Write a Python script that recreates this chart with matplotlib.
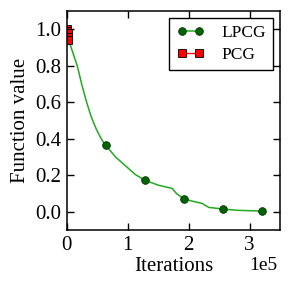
import matplotlib
matplotlib.use("Agg")
import matplotlib.pyplot as plt

plt.rcParams['font.family'] = ['Liberation Serif', 'DejaVu Serif']
plt.rcParams['font.size'] = 15

# LPCG curve (iterations, function value)
lpcg_x = [0, 7000, 17000, 25000, 32000, 40000, 48000, 54000, 59000, 64000, 80000,
          97000, 112000, 128000, 150000, 173000, 180000, 193000, 210000,
          222000, 233000, 256000, 280000, 300000, 320000]
lpcg_y = [0.97, 0.90, 0.80, 0.69, 0.605, 0.52, 0.455, 0.415, 0.385, 0.364, 0.30,
          0.25, 0.205, 0.173, 0.146, 0.128, 0.10, 0.069, 0.055,
          0.046, 0.024, 0.015, 0.008, 0.006, 0.004]
lpcg_marks = [0, 9, 13, 17, 21, 24]

# PCG (stops almost immediately)
pcg_x = [0, 500, 1000, 1500, 2000]
pcg_y = [1.0, 0.99, 0.98, 0.96, 0.94]

scale = 1e5
fig = plt.figure(figsize=(2.91, 2.91), dpi=100)
ax = fig.add_axes([0.230, 0.2096, 0.732, 0.752])

ax.plot(lpcg_x, lpcg_y, color='#22aa22', lw=1.1, marker='o', markersize=5.5,
        markerfacecolor='#006400', markeredgecolor='#003300', markeredgewidth=0.6,
        markevery=lpcg_marks, label='LPCG')
ax.plot(pcg_x, pcg_y, color='red', lw=1.0, marker='s', markersize=5.5,
        markerfacecolor='red', markeredgecolor='black', markeredgewidth=0.6,
        label='PCG')

ax.set_xlim(0, 350000)
ax.set_ylim(-0.1, 1.1)
ax.set_xticks([0, 100000, 200000, 300000])
ax.set_xticklabels(['%d' % (t / scale) for t in ax.get_xticks()])
ax.set_yticks([0.0, 0.2, 0.4, 0.6, 0.8, 1.0])
ax.tick_params(direction='in', top=True, right=True, length=5, width=1, pad=4)
for s in ax.spines.values():
    s.set_linewidth(1.1)

# offset label drawn as plain serif text
ax.text(0.99, -0.183, '1e5', transform=ax.transAxes, ha='right',
        va='baseline', fontsize=14, family=['Liberation Serif', 'DejaVu Serif'])

ax.set_xlabel('Iterations', labelpad=2)
ax.set_ylabel('Function value', labelpad=4)

leg = ax.legend(loc='upper right', fancybox=False, edgecolor='black',
                framealpha=1, numpoints=2, handlelength=1.6,
                handletextpad=1.0, labelspacing=0.3, borderaxespad=0.4,
                fontsize=12.5)
leg.get_frame().set_linewidth(1.0)

fig.savefig('out.png', dpi=100)
